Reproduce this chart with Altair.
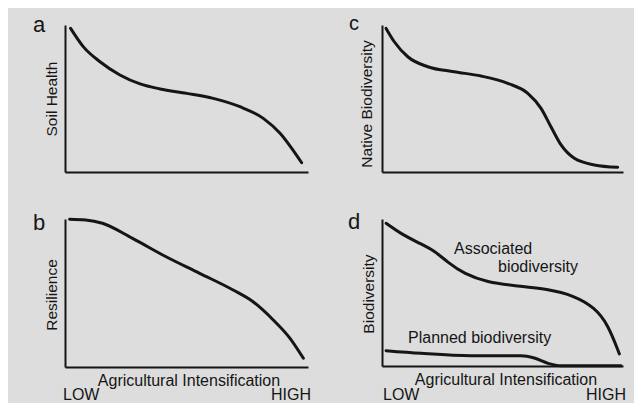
import altair as alt
import pandas as pd

# ---- data (normalised 0..1 conceptual curves) ----
a_x = [0.023, 0.075, 0.144, 0.226, 0.309, 0.391, 0.501, 0.610, 0.720, 0.816, 0.885, 0.933, 0.974]
a_y = [0.977, 0.853, 0.750, 0.660, 0.599, 0.565, 0.535, 0.501, 0.444, 0.365, 0.263, 0.161, 0.063]

c_x = [0.017, 0.051, 0.107, 0.190, 0.299, 0.411, 0.522, 0.605, 0.660, 0.701, 0.743, 0.798, 0.881, 0.978]
c_y = [0.977, 0.886, 0.784, 0.716, 0.682, 0.653, 0.603, 0.535, 0.433, 0.308, 0.184, 0.093, 0.048, 0.032]

b_x = [0.019, 0.085, 0.154, 0.278, 0.416, 0.554, 0.692, 0.774, 0.857, 0.926, 0.981]
b_y = [0.998, 0.993, 0.971, 0.869, 0.745, 0.633, 0.520, 0.441, 0.318, 0.194, 0.059]

assoc_x = [0.017, 0.079, 0.162, 0.217, 0.273, 0.341, 0.438, 0.549, 0.688, 0.798, 0.881, 0.937, 0.985]
assoc_y = [0.971, 0.898, 0.830, 0.784, 0.705, 0.626, 0.569, 0.546, 0.524, 0.478, 0.399, 0.286, 0.082]

planned_x = [0.017, 0.162, 0.369, 0.577, 0.632, 0.689, 0.743, 0.992]
planned_y = [0.104, 0.086, 0.070, 0.070, 0.054, 0.018, 0.002, 0.002]

panel_letters = ["a", "b", "c", "d"]
y_titles = ["Soil Health", "Resilience", "Native Biodiversity", "Biodiversity"]
x_title = "Agricultural Intensification"
x_ends = ["LOW", "HIGH"]
series_labels = ["Associated", "biodiversity", "Planned biodiversity"]

FONT = "Liberation Sans"
INK = "#151515"
BG = "#dddddd"

one = pd.DataFrame({"k": [0]})
XS = alt.Scale(domain=[0, 1], nice=False, zero=False)
YS = alt.Scale(domain=[0, 1], nice=False, zero=False)
XAX = alt.Axis(title=None, labels=False, ticks=False, grid=False,
               domainColor=INK, domainWidth=2, zindex=1)
YAX = alt.Axis(title=None, labels=False, ticks=False, grid=False,
               domainColor=INK, domainWidth=2, zindex=1)


def line(xs, ys, width=3, interp="monotone"):
    df = pd.DataFrame({"x": xs, "y": ys})
    return alt.Chart(df).mark_line(
        color=INK, strokeWidth=width, interpolate=interp, strokeCap="round"
    ).encode(x=alt.X("x:Q", scale=XS, axis=XAX), y=alt.Y("y:Q", scale=YS, axis=YAX))


def txt(label, x, y, size=16, align="left", angle=0):
    kw = dict(font=FONT, fontSize=size, color=INK, align=align, baseline="alphabetic")
    if angle:
        kw["angle"] = angle
    return alt.Chart(one).mark_text(**kw).encode(
        x=alt.value(x), y=alt.value(y), text=alt.value(label))


# background rectangle that also fixes the overall bounds
bg = alt.Chart(one).mark_rect(color=BG).encode(
    x=alt.value(-57), x2=alt.value(569), y=alt.value(-17), y2=alt.value(373))

pa = alt.layer(
    bg,
    line(a_x, a_y),
    txt(panel_letters[0], -32, 7, size=22),
    txt(y_titles[0], -8, 74, size=15.5, align="center", angle=270),
).properties(width=243, height=147)

pc = alt.layer(
    line(c_x, c_y),
    txt(panel_letters[2], -33, 5, size=20),
    txt(y_titles[2], -10, 79, size=15.5, align="center", angle=270),
).properties(width=241, height=147)

pb = alt.layer(
    line(b_x, b_y),
    txt(panel_letters[1], -32, 11, size=22),
    txt(y_titles[1], -8, 76, size=15.5, align="center", angle=270),
    txt(x_title, 124, 167, size=16, align="center"),
    txt(x_ends[0], -2, 181, size=16, align="left"),
    txt(x_ends[1], 246, 181, size=16, align="right"),
).properties(width=243, height=148)

pd_ = alt.layer(
    line(assoc_x, assoc_y, interp="basis"),
    line(planned_x, planned_y),
    txt(panel_letters[3], -34, 10, size=22),
    txt(y_titles[3], -8, 75, size=15.5, align="center", angle=270),
    txt(series_labels[0], 72, 35, size=16),
    txt(series_labels[1], 116, 53, size=16),
    txt(series_labels[2], 26, 124, size=16),
    txt(x_title, 124, 166, size=16, align="center"),
    txt(x_ends[0], 1, 181, size=16, align="left"),
    txt(x_ends[1], 244, 181, size=16, align="right"),
).properties(width=241, height=147)

chart = alt.concat(
    pa, pc, pb, pd_, columns=2, spacing={"row": 47, "column": 74}, bounds="flush"
).properties(padding=0, background=BG).configure_view(strokeWidth=0)

chart.save("out.html", embed_options={"renderer": "svg", "actions": False})
